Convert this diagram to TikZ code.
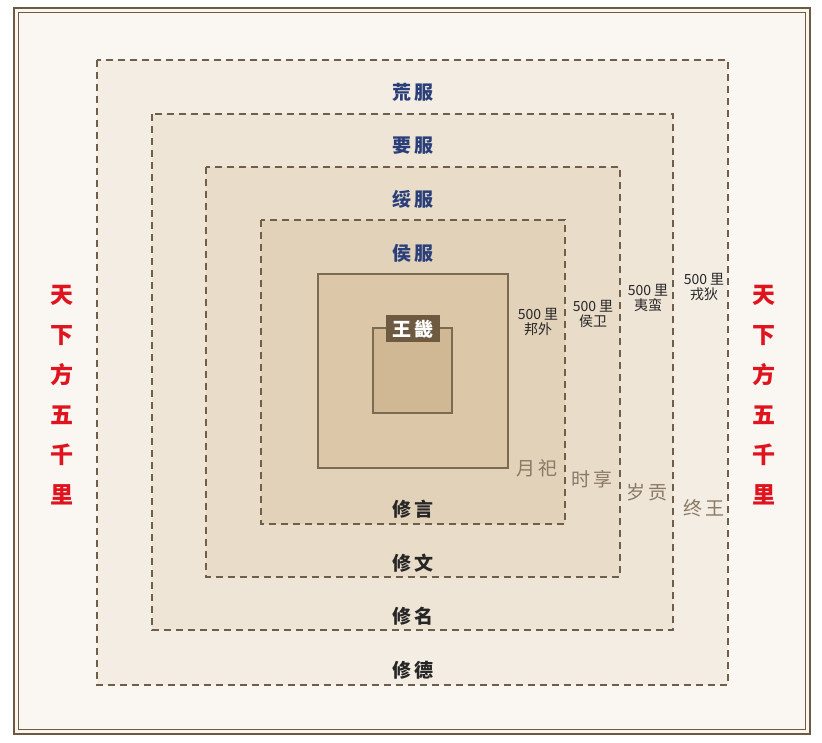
\documentclass[tikz,border=0pt]{standalone}
\usepackage{fontspec}
\setmainfont{Noto Sans CJK SC}
\definecolor{bg}{HTML}{FAF6F1}
\definecolor{f1}{HTML}{F4EDE3}
\definecolor{f2}{HTML}{EFE5D7}
\definecolor{f3}{HTML}{E9DCC9}
\definecolor{f4}{HTML}{E2D2BA}
\definecolor{f5}{HTML}{DCC8A8}
\definecolor{f6}{HTML}{D0B894}
\definecolor{brn}{HTML}{6E5A40}
\definecolor{dash}{HTML}{6E5E4A}
\definecolor{blu}{HTML}{2A3F7A}
\definecolor{gry}{HTML}{8A7A65}
\definecolor{rd}{HTML}{E0141E}
\tikzset{
 zone/.style={draw=dash,line width=2.6pt,dash pattern=on 7pt off 5pt},
 fu/.style={text=blu,font=\fontsize{19}{22}\selectfont\bfseries},
 xiu/.style={text=black!85,font=\fontsize{19}{22}\selectfont\bfseries},
 li/.style={align=center,font=\fontsize{14}{15}\selectfont,text=black!85},
 gong/.style={text=gry,font=\fontsize{19}{22}\selectfont},
 red/.style={text=rd,font=\fontsize{23}{26}\selectfont\bfseries,align=center}
}
\begin{document}
\begin{tikzpicture}[x=1pt,y=-1pt]
\useasboundingbox (0,0) rectangle (822,743);
\fill[white] (0,0) rectangle (822,743);
\fill[bg] (14,8) rectangle (810,734);
\draw[brn,line width=2.8pt] (14,8) rectangle (810,734);
\draw[brn,line width=1.4pt] (18.5,12.5) rectangle (805.5,729.5);
\path[zone,fill=f1] (97,60) rectangle (728,685);
\path[zone,fill=f2] (152,114) rectangle (673,630);
\path[zone,fill=f3] (206,167) rectangle (620,577);
\path[zone,fill=f4] (261,220) rectangle (565,524);
\draw[brn!90,line width=2.6pt,fill=f5] (318,274) rectangle (508,468);
\draw[brn!90,line width=2.6pt,fill=f6] (373,328) rectangle (452,413);
\node[fill=brn,text=white,minimum width=54pt,minimum height=27pt,inner sep=0pt,font=\fontsize{19}{22}\selectfont\bfseries] (wj) at (413,329) {王\,畿};
\node[fu] (hf) at (413,92) {荒\,服};
\node[fu] (yf) at (413,146) {要\,服};
\node[fu] (sf) at (413,199) {绥\,服};
\node[fu] (hof) at (413,253) {侯\,服};
\node[xiu] (xy) at (413,509) {修\,言};
\node[xiu] (xw) at (413,563) {修\,文};
\node[xiu] (xm) at (413,616) {修\,名};
\node[xiu] (xd) at (413,670) {修\,德};
\node[li] (l1) at (538,322) {500 里\\邦外};
\node[li] (l2) at (593,314) {500 里\\侯卫};
\node[li] (l3) at (648,298) {500 里\\夷蛮};
\node[li] (l4) at (704,287) {500 里\\戎狄};
\node[gong] (g1) at (537,468) {月\,祀};
\node[gong] (g2) at (592,479) {时\,享};
\node[gong] (g3) at (647,492) {岁\,贡};
\node[gong] (g4) at (704,508) {终\,王};
\node[red] (tl) at (62,395) {天\\[14pt]下\\[14pt]方\\[14pt]五\\[14pt]千\\[14pt]里};
\node[red] (tr) at (764,395) {天\\[14pt]下\\[14pt]方\\[14pt]五\\[14pt]千\\[14pt]里};
\end{tikzpicture}
\end{document}
